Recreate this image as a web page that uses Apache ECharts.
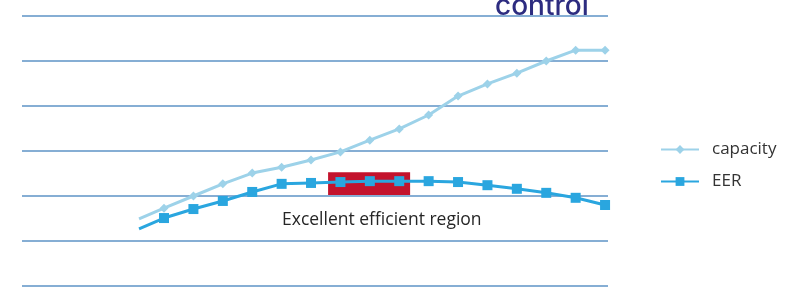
<!DOCTYPE html>
<html>
<head>
<meta charset="utf-8">
<script src="https://cdn.jsdelivr.net/npm/echarts@6/dist/echarts.min.js"></script>
<style>
html, body { margin: 0; padding: 0; background: #fff; }
#chart { width: 805px; height: 287px; }
</style>
</head>
<body>
<div id="chart"></div>
<script>
// x positions (point index), first point has no marker
var xs = [0.15, 1, 2, 3, 4, 5, 6, 7, 8, 9, 10, 11, 12, 13, 14, 15, 16];
var capacity = [1.49, 1.73, 2.0, 2.27, 2.51, 2.64, 2.8, 2.98, 3.24, 3.49, 3.8, 4.22, 4.49, 4.73, 5.0, 5.24, 5.24];
var eer = [1.27, 1.51, 1.71, 1.89, 2.09, 2.27, 2.29, 2.31, 2.33, 2.33, 2.33, 2.31, 2.24, 2.16, 2.07, 1.96, 1.8];
// highlighted region: [x from, x to], [y from, y to]
var regionX = [6.58, 9.37];
var regionY = [2.02, 2.53];

function pairs(vals) {
    return vals.map(function (v, i) {
        var item = { value: [xs[i], v] };
        if (i === 0) item.symbol = 'none';
        return item;
    });
}

var chart = echarts.init(document.getElementById('chart'));
chart.setOption({
    animation: false,
    grid: { left: 22, right: 197, top: 16, bottom: 1 },
    xAxis: {
        type: 'value',
        min: -3.83,
        max: 16.1,
        show: false
    },
    yAxis: {
        type: 'value',
        min: 0,
        max: 6,
        interval: 1,
        axisLabel: { show: false },
        axisLine: { show: false },
        axisTick: { show: false },
        splitLine: { lineStyle: { color: '#86aed4', width: 2 } }
    },
    legend: {
        orient: 'vertical',
        left: 655,
        top: 136,
        itemWidth: 38,
        itemHeight: 11,
        itemGap: 15,
        textStyle: { fontSize: 17, color: '#333', fontFamily: 'Open Sans', padding: [0, 0, 0, 8] },
        data: ['capacity', 'EER']
    },
    graphic: [{
        type: 'text',
        left: 282,
        top: 211,
        style: {
            text: 'Excellent efficient region',
            fontSize: 17.5,
            fontFamily: 'Open Sans',
            fill: '#262626'
        }
    }, {
        type: 'text',
        left: 495,
        top: -7,
        style: {
            text: 'control',
            fontSize: 28,
            fontWeight: 500,
            fontFamily: 'Inter',
            fill: '#2d2c80'
        }
    }],
    series: [{
        name: 'capacity',
        type: 'line',
        data: pairs(capacity),
        symbol: 'diamond',
        symbolSize: 9,
        itemStyle: { color: '#9dd2e9' },
        lineStyle: { color: '#9dd2e9', width: 3 },
        z: 3
    }, {
        name: 'EER',
        type: 'line',
        data: pairs(eer),
        symbol: 'rect',
        symbolSize: 10,
        itemStyle: { color: '#2aa6df' },
        lineStyle: { color: '#2aa6df', width: 3 },
        z: 4,
        markArea: {
            silent: true,
            itemStyle: { color: '#c3132d', opacity: 1 },
            data: [[
                { coord: [regionX[0], regionY[1]] },
                { coord: [regionX[1], regionY[0]] }
            ]]
        }
    }]
});
</script>
</body>
</html>
